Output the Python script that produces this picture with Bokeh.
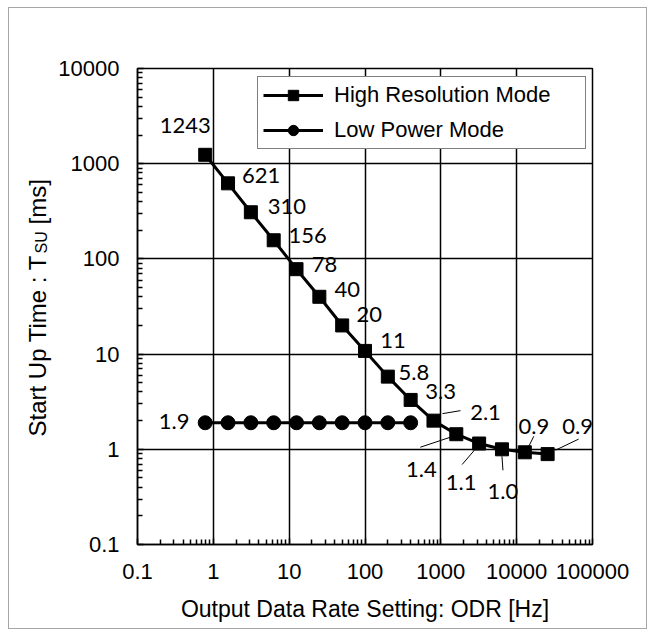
import math
from bokeh.plotting import figure
from bokeh.layouts import row
from bokeh.models import (ColumnDataSource, FixedTicker, CustomJSTickFormatter,
                          Legend, LegendItem, Range1d)
from bokeh.core.properties import value
from bokeh.embed import file_html
from bokeh.resources import INLINE

# ---------------- data ----------------
odr_hr = [0.78125, 1.5625, 3.125, 6.25, 12.5, 25, 50, 100, 200, 400,
          800, 1600, 3200, 6400, 12800, 25600]
tsu_hr = [1240, 622, 309, 157, 78, 40, 20, 10.8, 5.8, 3.3,
          2.0, 1.44, 1.15, 1.0, 0.93, 0.89]
label_hr = ["1243", "621", "310", "156", "78", "40", "20", "11", "5.8", "3.3",
            "2.1", "1.4", "1.1", "1.0", "0.9", "0.9"]

odr_lp = [0.78125, 1.5625, 3.125, 6.25, 12.5, 25, 50, 100, 200, 400]
tsu_lp = [1.9, 1.9, 1.9, 1.9, 1.9, 1.9, 1.9, 1.9, 1.9, 1.9]
label_lp = ["1.9"]

x_ticks = [0.1, 1, 10, 100, 1000, 10000, 100000]
y_ticks = [0.1, 1, 10, 100, 1000, 10000]

y_title_parts = ["Start Up Time : T", "SU", "[ms]"]
x_title = "Output Data Rate Setting: ODR [Hz]"

# ---------------- label placement (screen px, style) ----------------
hr_dx = [-20, 33, 36, 34, 28, 28, 27, 28, 26, 30, 52, -35, -18, 1, 9, 30]
hr_dy = [-29, -8, -6, -5, -5, -7, -11, -10, -4, -8, -8, 35, 39, 42, -26, -28]
# leader lines: index -> (start dx, dy, end dx, dy) in px from the point
leaders = {10: (9, -7, 27, -10), 11: (-6, 3, -36, 13), 12: (-5, 7, -17, 21),
           13: (0, 7, 1, 21), 14: (4, -6, 9, -16), 15: (8, -4, 31, -15)}

TW = 46                      # width of the y-title strip
W, H = 637 - TW, 620
ML, MR, MT, MB = 128 - TW, 54, 60, 84
FW, FH = W - ML - MR, H - MT - MB
PX_X = FW / 6.0
PX_Y = FH / 5.0

# ---------------- y-title strip (frame is aligned with the chart frame) ----------------
t = figure(width=TW, height=H, x_range=Range1d(0, TW), y_range=Range1d(0, FH),
           x_axis_location=None, y_axis_location=None,
           output_backend="svg", toolbar_location=None,
           min_border=0, min_border_left=0, min_border_right=0,
           min_border_top=0, min_border_bottom=0)
t.grid.visible = False
t.outline_line_color = None
t.background_fill_color = "white"
t.border_fill_color = "white"
base_x = 28
start_y = 108
t.text([base_x], [start_y], text=[y_title_parts[0]], angle=math.pi / 2,
       text_font=value("Liberation Sans"), text_font_size="24px", text_color="black",
       text_align="left", text_baseline="alphabetic")
t.text([base_x + 4], [start_y + 183], text=[y_title_parts[1]], angle=math.pi / 2,
       text_font=value("Liberation Sans"), text_font_size="16px", text_color="black",
       text_align="left", text_baseline="alphabetic")
t.text([base_x], [start_y + 212], text=[y_title_parts[2]], angle=math.pi / 2,
       text_font=value("Liberation Sans"), text_font_size="24px", text_color="black",
       text_align="left", text_baseline="alphabetic")

# ---------------- main chart ----------------
p = figure(width=W, height=H, x_axis_type="log", y_axis_type="log",
           x_range=(0.1, 100000), y_range=(0.1, 10000),
           output_backend="svg", toolbar_location=None,
           min_border_left=ML, min_border_right=MR,
           min_border_top=MT, min_border_bottom=MB)
p.background_fill_color = "white"
p.border_fill_color = "white"
p.outline_line_color = "black"
p.outline_line_width = 1.5

xt = FixedTicker(ticks=x_ticks,
                 minor_ticks=[m * v for v in x_ticks[:-1] for m in range(2, 10)])
yt = FixedTicker(ticks=y_ticks,
                 minor_ticks=[m * v for v in y_ticks[:-1] for m in range(2, 10)])
fmt = CustomJSTickFormatter(code="return String(tick);")
p.xaxis.ticker = xt
p.yaxis.ticker = yt
p.xgrid.ticker = xt
p.ygrid.ticker = yt
p.xaxis.formatter = fmt
p.yaxis.formatter = fmt

for ax in (p.xaxis[0], p.yaxis[0]):
    ax.major_tick_in = 6
    ax.major_tick_out = 0
    ax.minor_tick_in = 5
    ax.minor_tick_out = 0
    ax.axis_line_color = "black"
    ax.axis_line_width = 1.5
    ax.major_tick_line_color = "black"
    ax.minor_tick_line_color = "black"
    ax.major_tick_line_width = 1.5
    ax.minor_tick_line_width = 1.5
    ax.major_label_text_font = "Liberation Sans"
    ax.major_label_text_font_size = "22px"
    ax.major_label_text_color = "black"
    ax.major_label_standoff = 18
p.xaxis.major_label_standoff = 19

p.xaxis.axis_label = x_title
p.xaxis.axis_label_text_font = "Liberation Sans"
p.xaxis.axis_label_text_font_size = "23px"
p.xaxis.axis_label_text_font_style = "normal"
p.xaxis.axis_label_text_color = "black"
p.xaxis.axis_label_standoff = 14

for g in (p.xgrid[0], p.ygrid[0]):
    g.grid_line_color = "black"
    g.grid_line_width = 1.5

src_hr = ColumnDataSource(dict(x=odr_hr, y=tsu_hr, lab=label_hr, dx=hr_dx, dy=hr_dy))
src_lp = ColumnDataSource(dict(x=odr_lp, y=tsu_lp))

hr_line = p.line("x", "y", source=src_hr, line_color="black", line_width=3)
hr_pts = p.scatter("x", "y", source=src_hr, marker="square", size=13,
                   fill_color="black", line_color="black")
lp_line = p.line("x", "y", source=src_lp, line_color="black", line_width=3)
lp_pts = p.scatter("x", "y", source=src_lp, marker="circle", size=14,
                   fill_color="black", line_color="black")

# leader lines
lx0, ly0, lx1, ly1 = [], [], [], []
for i, (a, b, c, d) in leaders.items():
    X, Y = odr_hr[i], tsu_hr[i]
    lx0.append(X * 10 ** (a / PX_X)); ly0.append(Y * 10 ** (-b / PX_Y))
    lx1.append(X * 10 ** (c / PX_X)); ly1.append(Y * 10 ** (-d / PX_Y))
p.segment(lx0, ly0, lx1, ly1, line_color="black", line_width=1)

# data labels
p.text("x", "y", text="lab", source=src_hr, x_offset="dx", y_offset="dy",
       text_font=value("Lato"), text_font_size="22px", text_color="black",
       text_align="center", text_baseline="middle")
p.text([odr_lp[0]], [tsu_lp[0]], text=label_lp, x_offset=-31, y_offset=-1,
       text_font=value("Lato"), text_font_size="22px", text_color="black",
       text_align="center", text_baseline="middle")

legend = Legend(items=[LegendItem(label="High Resolution Mode", renderers=[hr_line, hr_pts]),
                       LegendItem(label="Low Power Mode", renderers=[lp_line, lp_pts])],
                location=(120, 395), margin=0, padding=5, spacing=9,
                glyph_width=60, glyph_height=26, label_height=26, label_width=246,
                label_standoff=11, label_text_font="Liberation Sans",
                label_text_font_size="22px", label_text_color="black",
                border_line_color="black", border_line_width=1.5,
                background_fill_color="white", background_fill_alpha=1.0)
p.add_layout(legend)

layout = row(t, p, spacing=0)
layout.styles = {"border": "1px solid #a6a6a6", "margin-left": "8px", "margin-top": "7px",
                 "background-color": "white"}

open("out.html", "w").write(file_html(layout, INLINE))
